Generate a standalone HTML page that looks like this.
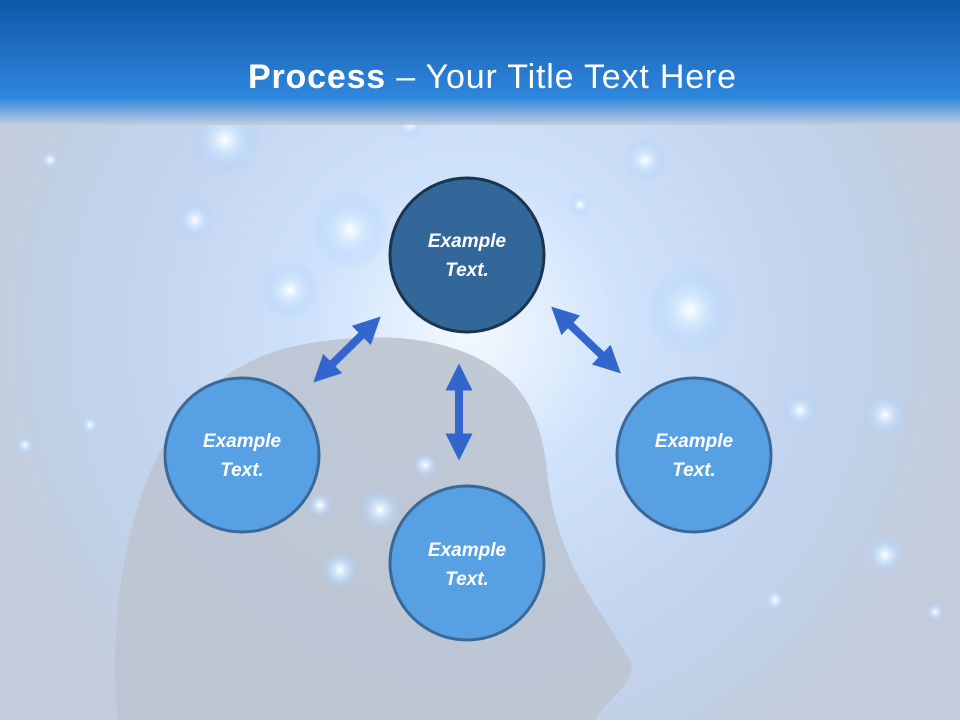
<!DOCTYPE html>
<html><head><meta charset="utf-8"><style>
body{margin:0;width:960px;height:720px;overflow:hidden;font-family:"Liberation Sans",sans-serif}
</style></head><body>
<svg width="960" height="720" viewBox="0 0 960 720" xmlns="http://www.w3.org/2000/svg">
<defs>
<linearGradient id="hd" x1="0" y1="0" x2="0" y2="1">
<stop offset="0" stop-color="#0f57a8"/><stop offset="0.78" stop-color="#2f86dc"/><stop offset="1" stop-color="#c0cde2"/>
</linearGradient>
<radialGradient id="glow" cx="470" cy="330" r="520" gradientUnits="userSpaceOnUse">
<stop offset="0" stop-color="#f4f9ff"/><stop offset="0.3" stop-color="#cfe2fb"/><stop offset="0.65" stop-color="#c2d4ee"/><stop offset="1" stop-color="#c3ccdb"/>
</radialGradient>
<radialGradient id="sp"><stop offset="0" stop-color="#fff" stop-opacity="1"/><stop offset="0.3" stop-color="#d8ecff" stop-opacity="0.8"/><stop offset="1" stop-color="#9cc8ff" stop-opacity="0"/></radialGradient>
<marker id="a" viewBox="0 0 10 10" refX="5" refY="5" markerWidth="3.4" markerHeight="3.4" orient="auto-start-reverse"><path d="M0,0 L10,5 L0,10 z" fill="#3366cc"/></marker>
</defs>
<rect width="960" height="720" fill="url(#glow)"/>
<g>
<circle cx="225" cy="140" r="35" fill="url(#sp)"/><circle cx="350" cy="230" r="40" fill="url(#sp)"/>
<circle cx="290" cy="290" r="30" fill="url(#sp)"/><circle cx="690" cy="310" r="45" fill="url(#sp)"/>
<circle cx="645" cy="160" r="22" fill="url(#sp)"/><circle cx="195" cy="220" r="20" fill="url(#sp)"/>
<circle cx="800" cy="410" r="18" fill="url(#sp)"/><circle cx="885" cy="415" r="22" fill="url(#sp)"/>
<circle cx="885" cy="555" r="20" fill="url(#sp)"/><circle cx="580" cy="205" r="12" fill="url(#sp)"/>
<circle cx="50" cy="160" r="10" fill="url(#sp)"/><circle cx="775" cy="600" r="12" fill="url(#sp)"/>
<circle cx="935" cy="612" r="10" fill="url(#sp)"/><circle cx="410" cy="125" r="14" fill="url(#sp)"/>
<circle cx="25" cy="445" r="10" fill="url(#sp)"/><circle cx="90" cy="425" r="10" fill="url(#sp)"/>
</g>
<path d="M118,720 C110,640 120,560 140,500 C165,420 220,360 300,345 C380,330 460,335 510,380 C540,410 545,450 548,480 C552,510 560,540 575,570 C590,600 620,640 632,665 C630,690 605,700 595,720 Z" fill="#bcc4d0" opacity="0.9"/>
<g>
<circle cx="340" cy="570" r="20" fill="url(#sp)"/><circle cx="380" cy="510" r="22" fill="url(#sp)"/>
<circle cx="425" cy="465" r="14" fill="url(#sp)"/><circle cx="320" cy="505" r="14" fill="url(#sp)"/>
</g>
<rect width="960" height="125" fill="url(#hd)"/>
<text x="492" y="88" text-anchor="middle" font-size="34" fill="#fff" font-family="Liberation Sans, sans-serif" textLength="488"><tspan font-weight="bold">Process</tspan> – Your Title Text Here</text>
<g stroke="#3366cc" stroke-width="8" fill="none" marker-start="url(#a)" marker-end="url(#a)">
<line x1="323" y1="373" x2="371" y2="326"/>
<line x1="561" y1="316" x2="611" y2="364"/>
<line x1="459" y1="377" x2="459" y2="447"/>
</g>
<g font-family="Liberation Sans, sans-serif" font-size="19" font-weight="bold" font-style="italic" fill="#fff" text-anchor="middle">
<circle cx="467" cy="255" r="77" fill="#336699" stroke="#1a3550" stroke-width="3"/>
<text x="467" y="247">Example</text><text x="467" y="276">Text.</text>
<circle cx="242" cy="455" r="77" fill="#57a0e3" stroke="#3a6899" stroke-width="3"/>
<text x="242" y="447">Example</text><text x="242" y="476">Text.</text>
<circle cx="467" cy="563" r="77" fill="#57a0e3" stroke="#3a6899" stroke-width="3"/>
<text x="467" y="556">Example</text><text x="467" y="585">Text.</text>
<circle cx="694" cy="455" r="77" fill="#57a0e3" stroke="#3a6899" stroke-width="3"/>
<text x="694" y="447">Example</text><text x="694" y="476">Text.</text>
</g>
</svg>
</body></html>
